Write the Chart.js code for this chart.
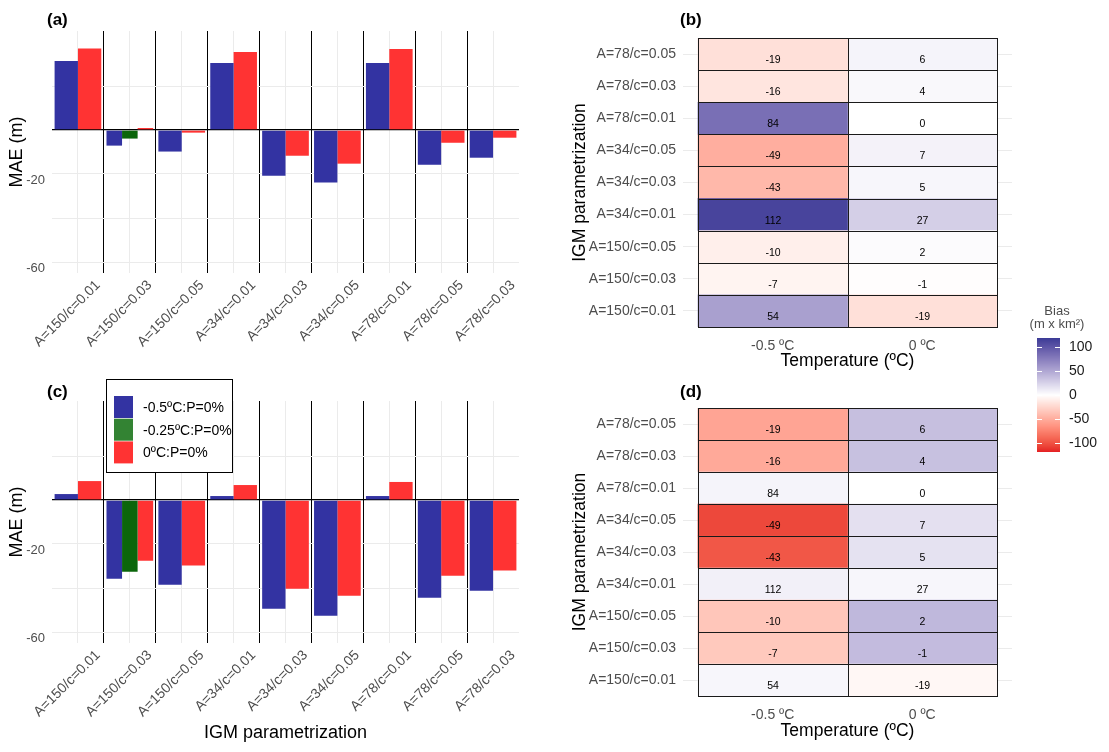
<!DOCTYPE html>
<html>
<head>
<meta charset="utf-8">
<script src="https://cdn.jsdelivr.net/npm/chart.js@4.4.1/dist/chart.umd.min.js"></script>
<style>
  html, body { margin: 0; padding: 0; background: #fff; }
  body { width: 1109px; height: 752px; position: relative; overflow: hidden; }
  .panel { position: absolute; }
</style>
</head>
<body>
<div class="panel" style="left:0;top:0;width:560px;height:370px"><canvas id="pa"></canvas></div>
<div class="panel" style="left:0;top:370px;width:560px;height:382px"><canvas id="pc"></canvas></div>
<div class="panel" style="left:570px;top:0;width:460px;height:372px"><canvas id="pb"></canvas></div>
<div class="panel" style="left:570px;top:372px;width:460px;height:370px"><canvas id="pd"></canvas></div>
<canvas id="bar" width="99" height="175" style="position:absolute;left:1010px;top:290px"></canvas>
<script>
// bar panels (a) and (c)
const params = ['A=150/c=0.01', 'A=150/c=0.03', 'A=150/c=0.05', 'A=34/c=0.01', 'A=34/c=0.03',
                'A=34/c=0.05', 'A=78/c=0.01', 'A=78/c=0.05', 'A=78/c=0.03'];
const seriesLabels = ['-0.5ºC:P=0%', '-0.25ºC:P=0%', '0ºC:P=0%'];

const maeA_m05  = [31.4, -7.1, -9.8, 30.5, -20.8, -23.9, 30.5, -15.8, -12.6];
const maeA_m025 = [null, -3.9, null, null, null, null, null, null, null];
const maeA_0    = [37.1, 0.9, -1.2, 35.5, -11.7, -15.3, 36.8, -5.8, -3.5];

const maeC_m05  = [2.7, -35.8, -38.5, 1.8, -49.4, -52.6, 1.8, -44.4, -41.2];
const maeC_m025 = [null, -32.6, null, null, null, null, null, null, null];
const maeC_0    = [8.6, -27.6, -29.8, 6.8, -40.3, -43.5, 8.2, -34.4, -32.1];

const yGrid = [-60, -40, -20, 0, 20];
const yShown = [-20, -60];

// heatmaps (b) and (d)
const rows = ['A=78/c=0.05', 'A=78/c=0.03', 'A=78/c=0.01', 'A=34/c=0.05', 'A=34/c=0.03',
              'A=34/c=0.01', 'A=150/c=0.05', 'A=150/c=0.03', 'A=150/c=0.01'];
const temps = ['-0.5 ºC', '0 ºC'];
const biasB_m05 = [-19, -16, 84, -49, -43, 112, -10, -7, 54];
const biasB_0   = [6, 4, 0, 7, 5, 27, 2, -1, -19];
const fillD_m05 = [-55, -52, 6, -105, -98, 8, -35, -33, 5];
const fillD_0   = [36, 35, 0, 17, 16, 5, 40, 38, -5];
const barTicks = [100, 50, 0, -50, -100];

Chart.defaults.font.family = '"Liberation Sans", Arial, sans-serif';
Chart.defaults.color = '#4d4d4d';

// ---- colour scale (lab interpolation, red - white - blue) ----
function toLin(c) { c /= 255; return c <= 0.04045 ? c / 12.92 : Math.pow((c + 0.055) / 1.055, 2.4); }
function fromLin(c) {
  const v = c <= 0.0031308 ? 12.92 * c : 1.055 * Math.pow(c, 1 / 2.4) - 0.055;
  return Math.round(Math.max(0, Math.min(1, v)) * 255);
}
function rgbToLab(rgb) {
  const R = toLin(rgb[0]), G = toLin(rgb[1]), B = toLin(rgb[2]);
  const X = (0.4124 * R + 0.3576 * G + 0.1805 * B) / 0.95047;
  const Y = 0.2126 * R + 0.7152 * G + 0.0722 * B;
  const Z = (0.0193 * R + 0.1192 * G + 0.9505 * B) / 1.08883;
  const f = t => t > 0.008856 ? Math.cbrt(t) : 7.787 * t + 16 / 116;
  return [116 * f(Y) - 16, 500 * (f(X) - f(Y)), 200 * (f(Y) - f(Z))];
}
function labToRgb(lab) {
  const fy = (lab[0] + 16) / 116, fx = fy + lab[1] / 500, fz = fy - lab[2] / 200;
  const fi = t => t * t * t > 0.008856 ? t * t * t : (t - 16 / 116) / 7.787;
  const X = fi(fx) * 0.95047, Y = fi(fy), Z = fi(fz) * 1.08883;
  return [fromLin(3.2406 * X - 1.5372 * Y - 0.4986 * Z),
          fromLin(-0.9689 * X + 1.8758 * Y + 0.0415 * Z),
          fromLin(0.0557 * X - 0.2040 * Y + 1.0570 * Z)];
}
const labLow = rgbToLab([228, 30, 35]), labMid = rgbToLab([255, 255, 255]), labHigh = rgbToLab([58, 58, 150]);
const LIM = 119;
function fillColor(v) {
  const t = Math.max(-1, Math.min(1, v / LIM));
  const end = t < 0 ? labLow : labHigh, a = Math.abs(t);
  const c = labToRgb(labMid.map((m, i) => m + a * (end[i] - m)));
  return 'rgb(' + c.join(',') + ')';
}

// ---- plugins ----
const panelLabel = {
  id: 'panelLabel',
  afterDraw(chart, args, o) {
    const ctx = chart.ctx;
    ctx.save();
    ctx.font = 'bold 17px "Liberation Sans", Arial, sans-serif';
    ctx.fillStyle = '#000';
    ctx.textBaseline = 'middle';
    ctx.fillText(o.text, o.x, o.y);
    ctx.restore();
  }
};

const boxLegend = {
  id: 'boxLegend',
  afterDraw(chart, args, o) {
    if (!o.show) return;
    const ctx = chart.ctx;
    ctx.save();
    ctx.fillStyle = '#fff';
    ctx.fillRect(o.x, o.y, o.w, o.h);
    ctx.strokeStyle = '#000';
    ctx.lineWidth = 1;
    ctx.strokeRect(o.x + 0.5, o.y + 0.5, o.w, o.h);
    ctx.font = '14px "Liberation Sans", Arial, sans-serif';
    ctx.textBaseline = 'middle';
    chart.data.datasets.forEach((ds, i) => {
      const top = o.y + 17 + i * 22.7;
      ctx.fillStyle = ds.legendColor || ds.backgroundColor;
      ctx.fillRect(o.x + 8, top, 19, 22);
      ctx.fillStyle = '#000';
      ctx.fillText(ds.label, o.x + 37, top + 12);
    });
    ctx.restore();
  }
};

const cellText = {
  id: 'cellText',
  afterDatasetsDraw(chart) {
    const ctx = chart.ctx;
    ctx.save();
    ctx.font = '10.5px "Liberation Sans", Arial, sans-serif';
    ctx.fillStyle = '#000';
    ctx.textAlign = 'center';
    ctx.textBaseline = 'middle';
    ctx.strokeStyle = '#1a1a1a';
    ctx.lineWidth = 1;
    chart.data.datasets.forEach((ds, di) => {
      chart.getDatasetMeta(di).data.forEach((el, i) => {
        const p = el.getProps(['x', 'y', 'base', 'height'], true);
        const x0 = Math.round(Math.min(p.x, p.base)), x1 = Math.round(Math.max(p.x, p.base));
        const y0 = Math.round(p.y - p.height / 2), y1 = Math.round(p.y + p.height / 2);
        ctx.strokeRect(x0 + 0.5, y0 + 0.5, x1 - x0, y1 - y0);
        ctx.fillText(String(ds.cellText[i]), (x0 + x1) / 2, p.y + 6);
      });
    });
    ctx.restore();
  }
};

// ---- bar panels ----
function barChart(id, m05, m025, z, o) {
  const sets = [
    { label: seriesLabels[0], data: m05, backgroundColor: 'rgb(51,51,162)' },
    { label: seriesLabels[1], data: m025, backgroundColor: '#0b660b', legendColor: 'rgb(51,131,51)' },
    { label: seriesLabels[2], data: z, backgroundColor: 'rgb(255,51,51)' }
  ].map(d => Object.assign(d, { skipNull: true, barPercentage: 1, categoryPercentage: 0.9, borderWidth: 0 }));

  new Chart(document.getElementById(id), {
    type: 'bar',
    data: { labels: params, datasets: sets },
    options: {
      animation: false,
      responsive: true,
      maintainAspectRatio: false,
      layout: { padding: { top: 31, right: 41, left: 0, bottom: 0 } },
      plugins: {
        legend: { display: false },
        tooltip: { enabled: false },
        panelLabel: { text: o.tag, x: 47, y: o.tagY },
        boxLegend: { show: o.legend, x: 106, y: 9, w: 126, h: 93 }
      },
      scales: {
        x: {
          offset: true,
          grid: {
            offset: true,
            drawTicks: false,
            lineWidth: 1,
            color: c => (c.type !== 'tick' || c.index === 0) ? 'rgba(0,0,0,0)' : '#000'
          },
          border: { display: false },
          ticks: { autoSkip: false, minRotation: 45, maxRotation: 45, padding: 4, labelOffset: 20,
                   color: '#4d4d4d', font: { size: 14 } },
          title: { display: o.xTitle, text: 'IGM parametrization', color: '#000',
                   font: { size: 18 }, padding: { top: 0, bottom: 8 } },
          afterFit: s => { s.height = o.xh; }
        },
        x2: {
          type: 'category',
          labels: params,
          offset: true,
          position: 'bottom',
          grid: { offset: false, color: '#EBEBEB', drawTicks: false },
          ticks: { display: false },
          border: { display: false },
          afterFit: s => { s.height = 0; }
        },
        y: {
          min: -65,
          max: 45,
          afterBuildTicks: s => { s.ticks = yGrid.map(v => ({ value: v })); },
          grid: {
            drawTicks: false,
            color: c => (c.tick && c.tick.value === 0) ? '#000' : '#EBEBEB',
            lineWidth: c => (c.tick && c.tick.value === 0) ? 1.3 : 1
          },
          border: { display: false },
          ticks: { callback: v => yShown.includes(v) ? String(v) : '', padding: 7, labelOffset: 6,
                   color: '#4d4d4d', font: { size: 13 } },
          title: { display: true, text: 'MAE (m)', color: '#000', font: { size: 18 }, padding: { top: 6, bottom: 0 } },
          afterFit: s => { s.width = 52; }
        }
      }
    },
    plugins: [panelLabel, boxLegend]
  });
}

barChart('pa', maeA_m05, maeA_m025, maeA_0, { tag: '(a)', tagY: 20, legend: false, xTitle: false, xh: 97 });
barChart('pc', maeC_m05, maeC_m025, maeC_0, { tag: '(c)', tagY: 22, legend: true, xTitle: true, xh: 109 });

// ---- heatmap panels ----
function heatChart(id, fills, tag, topPad, xh) {
  const texts = [biasB_m05, biasB_0];
  new Chart(document.getElementById(id), {
    type: 'bar',
    data: {
      labels: rows,
      datasets: temps.map((t, ci) => ({
        label: t,
        data: rows.map(() => [ci, ci + 1]),
        backgroundColor: fills[ci].map(fillColor),
        borderWidth: 0,
        grouped: false,
        barPercentage: 1,
        categoryPercentage: 1,
        cellText: texts[ci]
      }))
    },
    options: {
      indexAxis: 'y',
      animation: false,
      responsive: true,
      maintainAspectRatio: false,
      layout: { padding: { top: topPad, right: 18, left: 0, bottom: 0 } },
      plugins: {
        legend: { display: false },
        tooltip: { enabled: false },
        panelLabel: { text: tag, x: 110, y: 20 }
      },
      scales: {
        x: {
          type: 'linear',
          min: -0.1,
          max: 2.1,
          afterBuildTicks: s => { s.ticks = [{ value: 0.5 }, { value: 1.5 }]; },
          grid: { display: false },
          border: { display: false },
          ticks: { callback: v => temps[Math.floor(v)], padding: 3, color: '#4d4d4d', font: { size: 14 } },
          title: { display: true, text: 'Temperature (ºC)', color: '#000', font: { size: 17.5 }, padding: { top: 0, bottom: 0 } },
          afterFit: s => { s.height = xh; }
        },
        y: {
          grid: { offset: false, color: '#EBEBEB', drawTicks: false },
          border: { display: false },
          ticks: { padding: 7, color: '#4d4d4d', font: { size: 14 } },
          title: { display: true, text: 'IGM parametrization', color: '#000', font: { size: 17.5 }, padding: { top: 0, bottom: 0 } },
          afterFit: s => { s.width = 113; }
        }
      }
    },
    plugins: [cellText, panelLabel]
  });
}

heatChart('pb', [biasB_m05, biasB_0], '(b)', 38, 45);
heatChart('pd', [fillD_m05, fillD_0], '(d)', 36, 46);

// ---- colour bar legend ----
(function () {
  const cv = document.getElementById('bar');
  const ctx = cv.getContext('2d');
  const x0 = 27, w = 23, yTop = 48, yBot = 162;
  const v2y = v => yTop + (LIM - v) / (2 * LIM) * (yBot - yTop);
  for (let y = yTop; y < yBot; y++) {
    const v = LIM - (y + 0.5 - yTop) / (yBot - yTop) * 2 * LIM;
    ctx.fillStyle = fillColor(v);
    ctx.fillRect(x0, y, w, 1);
  }
  ctx.strokeStyle = '#fff';
  ctx.lineWidth = 1;
  ctx.font = '14px "Liberation Sans", Arial, sans-serif';
  ctx.textBaseline = 'middle';
  barTicks.forEach(v => {
    const y = Math.round(v2y(v)) + 0.5;
    ctx.beginPath();
    ctx.moveTo(x0, y); ctx.lineTo(x0 + 5, y);
    ctx.moveTo(x0 + w - 5, y); ctx.lineTo(x0 + w, y);
    ctx.stroke();
    ctx.fillStyle = '#1a1a1a';
    ctx.fillText(String(v), 59, y);
  });
  ctx.fillStyle = '#4d4d4d';
  ctx.textAlign = 'center';
  ctx.font = '13px "Liberation Sans", Arial, sans-serif';
  ctx.fillText('Bias', 47, 21);
  ctx.fillText('(m x km²)', 47, 34);
})();
</script>
</body>
</html>
